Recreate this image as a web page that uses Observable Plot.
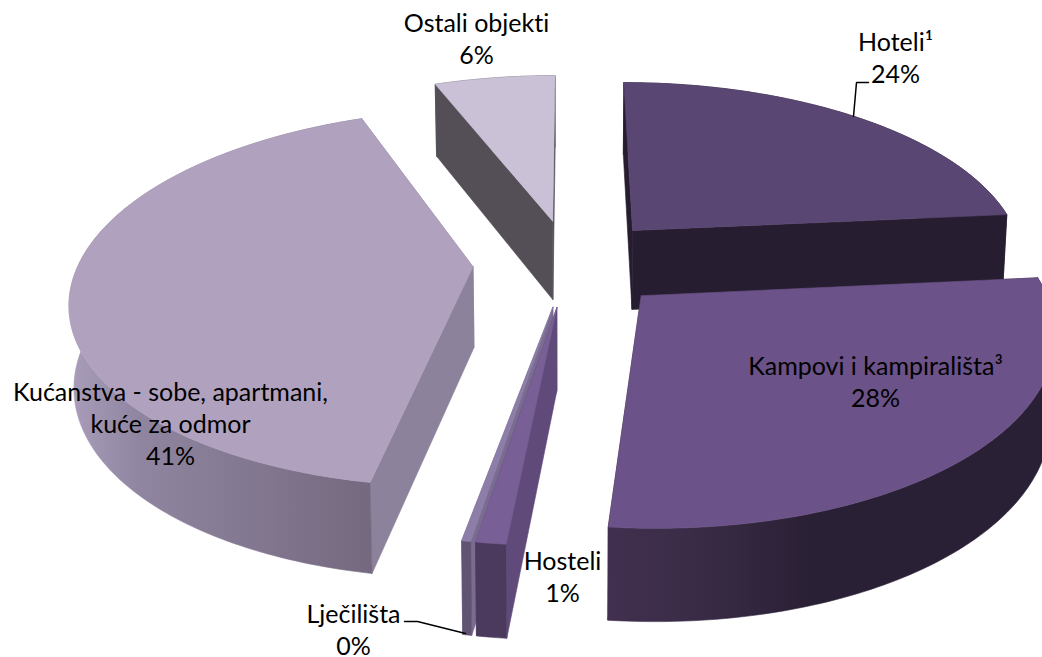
<!DOCTYPE html>
<html lang="hr">
<head>
<meta charset="utf-8">
<script src="https://cdn.jsdelivr.net/npm/d3@7"></script>
<script src="https://cdn.jsdelivr.net/npm/@observablehq/plot@0.6"></script>
<style>
html,body{margin:0;padding:0;background:#fff;overflow:hidden}
svg{display:block}
svg text{font-variant-ligatures:none}
</style>
</head>
<body>
<div id="chart"></div>
<script>
// Data
const categories = ["Hoteli¹", "Kampovi i kampirališta³", "Hosteli", "Lječilišta", "Kućanstva - sobe, apartmani,\nkuće za odmor", "Ostali objekti"];
const shares = [23.5, 28.05, 1, 0.3, 41.25, 5.9];
const percentLabels = ["24%", "28%", "1%", "0%", "41%", "6%"];

// Styles per slice
const topColors  = ["#5a4672", "#6b5288", "#785f96", "#8d7ea9", "#b0a2bf", "#cac1d6"];
const cutColors  = ["#271d30", "#271d30", "#604a7a", "#7a6c8e", "#8c829b", "#544f57"];
const wallStops  = [
  [[0, "#271d30"]],
  [[608, "#41304f"], [700, "#392b46"], [810, "#2a2035"]],
  [[0, "#4b3a5e"]],
  [[0, "#615472"]],
  [[70, "#a99db9"], [140, "#8f85a0"], [370, "#75697f"]],
  [[0, "#544f57"]]
];
const explodes = [0.245, 0.25, 0.24, 0.24, 0.245, 0.24];
const paintOrder = [5, 4, 0, 1, 3, 2];

// Label placement
const labelX = [895, 875, 562, 353, 170, 476];
const labelY = [56, 380, 575, 628, 422, 37];
const leaders = [
  {id: "a", pts: [[853,116],[856,82],[868,82]]},
  {id: "b", pts: [[404,621],[417,621],[465,633]]}
];

// Perspective model of the exploded disc
const cx = 569, cy = 262, Rx = 394, Ry = 182, persp = 0.165;
const depth = w => 27.5 + 53 / w;
const shrink = 0.99;
function project(X, Y, low) {
  const w = 1 - persp * Y;
  const sx = cx + Rx * X / w, sy = cy + Ry * Y / w;
  return low ? [cx + (sx - cx) * shrink, sy + depth(w)] : [sx, sy];
}

const total = d3.sum(shares);
const cum = d3.cumsum(shares);
const slices = shares.map((v, i) => {
  const a1 = cum[i] / total * 2 * Math.PI, a0 = a1 - v / total * 2 * Math.PI, m = (a0 + a1) / 2;
  return {i, a0, a1, ox: explodes[i] * Math.sin(m), oy: -explodes[i] * Math.cos(m)};
});
const rim = (s, a) => [s.ox + Math.sin(a), s.oy - Math.cos(a)];
const apex = s => [s.ox, s.oy];
const rows = pts => [...pts, pts[0]].map(p => ({x: p[0], y: p[1]}));
const face = (pts, color) => Plot.line(rows(pts), {x: "x", y: "y", fill: color, stroke: color, strokeWidth: 0.6, curve: "linear"});

const sliceMarks = paintOrder.flatMap(k => {
  const s = slices[k];
  const P = s.a1 - s.a0;
  const steps = Math.max(2, Math.ceil(P / (Math.PI / 180)));
  const ang = d3.range(steps + 1).map(j => s.a0 + P * j / steps);
  const cut = a => {
    const r = rim(s, a), c = apex(s);
    return face([project(...c,0), project(...r,0), project(...r,1), project(...c,1)], cutColors[k]);
  };
  const wall = [...ang.map(a => project(...rim(s,a),0)), ...ang.slice().reverse().map(a => project(...rim(s,a),1))];
  const top = [project(...apex(s),0), ...ang.map(a => project(...rim(s,a),0))];
  return [cut(s.a1), cut(s.a0), face(wall, `url(#wall${k})`), face(top, topColors[k])];
});

// Horizontal wall gradients, placed through the x scale
const wallGradients = (index, scales) => {
  const defs = d3.create("svg:defs");
  wallStops.forEach((stops, k) => {
    const g = defs.append("linearGradient").attr("id", `wall${k}`)
      .attr("gradientUnits", "userSpaceOnUse")
      .attr("x1", scales.x(stops[0][0])).attr("x2", scales.x(stops[stops.length - 1][0] + 1)).attr("y1", 0).attr("y2", 0);
    const x0 = stops[0][0], span = stops[stops.length - 1][0] + 1 - x0;
    stops.forEach(([x, c]) => g.append("stop").attr("offset", (x - x0) / span).attr("stop-color", c));
  });
  return defs.node();
};

const labels = categories.map((c, i) => ({text: `${c}\n${percentLabels[i]}`, x: labelX[i], y: labelY[i]}));
const leaderRows = leaders.flatMap(l => l.pts.map(p => ({id: l.id, x: p[0], y: p[1]})));

const plot = Plot.plot({
  width: 1042, height: 657,
  margin: 0,
  x: {domain: [0, 1042], axis: null},
  y: {domain: [657, 0], axis: null},
  style: {background: "#fff"},
  marks: [
    wallGradients,
    ...sliceMarks,
    Plot.line(leaderRows, {x: "x", y: "y", z: "id", stroke: "#000", strokeWidth: 1.5, strokeLinejoin: "miter"}),
    Plot.text(labels, {x: "x", y: "y", text: "text", fontFamily: "Lato", fontSize: 25, lineHeight: 1.28, textAnchor: "middle", fill: "#000"})
  ]
});
document.getElementById("chart").append(plot);
</script>
</body>
</html>
